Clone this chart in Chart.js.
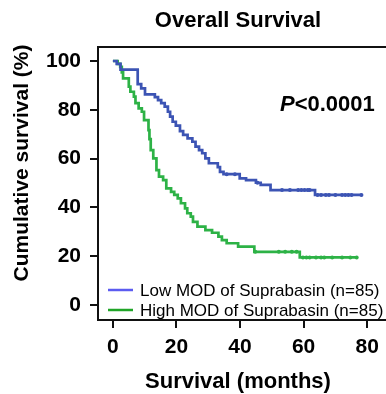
<!DOCTYPE html>
<html>
<head>
<meta charset="utf-8">
<script src="https://cdn.jsdelivr.net/npm/chart.js@4/dist/chart.umd.min.js"></script>
<style>
html,body{margin:0;padding:0;background:#fff;}
#wrap{width:386px;height:394px;position:relative;}
</style>
</head>
<body>
<div id="wrap"><canvas id="c" width="386" height="394"></canvas></div>
<script>
// ---- data ----
const chartTitle = 'Overall Survival';
const xAxisTitle = 'Survival (months)';
const yAxisTitle = 'Cumulative survival (%)';
const pValueText = '<0.0001';
const seriesLabels = ['Low MOD of Suprabasin (n=85)', 'High MOD of Suprabasin (n=85)'];
const xTicks = [0, 20, 40, 60, 80];
const yTicks = [0, 20, 40, 60, 80, 100];

// Low MOD (blue) step curve: event times (months) and survival (%)
const lowTimes = [0, 1.2, 2.4, 7.8, 8.9, 10.1, 13.2, 14.2, 15.2, 16.3, 17.3, 18.0, 18.8, 19.8, 21.1, 22.1, 23.5, 25.0, 26.0, 27.1, 28.1, 29.1, 30.2, 33.0, 33.7, 34.8, 39.9, 41.9, 45.0, 46.5, 49.6, 63.6, 78.2];
const lowSurv  = [100, 98.8, 96.5, 90.5, 88.8, 86.3, 85.2, 84.0, 82.7, 81.3, 79.2, 77.2, 75.1, 73.5, 71.3, 69.7, 68.3, 66.9, 64.9, 63.5, 62.2, 60.1, 58.1, 56.5, 54.6, 53.6, 51.9, 51.2, 50.1, 49.2, 47.1, 45.1, 45.1];
// Low MOD censored marks
const lowCensorTimes = [35.8, 38.4, 45.5, 53.2, 55.7, 58.3, 59.3, 60.3, 61.3, 61.9, 64.4, 65.5, 67.0, 68.0, 70.0, 72.1, 73.1, 74.1, 75.1, 78.2];
const lowCensorSurv  = [53.6, 53.6, 50.1, 47.1, 47.1, 47.1, 47.1, 47.1, 47.1, 47.1, 45.1, 45.1, 45.1, 45.1, 45.1, 45.1, 45.1, 45.1, 45.1, 45.1];

// High MOD (green) step curve
const highTimes = [0, 1.5, 2.3, 2.8, 3.2, 5.0, 5.5, 6.6, 7.1, 8.1, 9.1, 9.8, 11.2, 11.5, 11.9, 12.7, 13.7, 14.5, 15.8, 16.8, 18.3, 19.3, 20.4, 21.4, 22.7, 23.4, 24.5, 25.2, 26.6, 29.1, 31.2, 33.2, 34.3, 35.8, 39.4, 44.5, 58.8, 76.7];
const highSurv  = [100, 98.8, 97.6, 95.3, 92.9, 89.5, 87.4, 85.4, 82.7, 80.6, 79.2, 75.8, 71.7, 68.0, 63.5, 60.1, 55.3, 52.6, 51.2, 47.8, 46.4, 45.1, 43.7, 41.7, 39.6, 37.6, 36.2, 34.1, 32.1, 30.7, 29.6, 28.0, 26.6, 25.3, 23.9, 21.8, 19.5, 19.5];
// High MOD censored marks
const highCensorTimes = [44.8, 52.2, 54.2, 56.3, 57.8, 59.8, 60.9, 61.9, 63.9, 65.5, 66.5, 69.0, 72.1, 74.7, 76.7];
const highCensorSurv  = [21.8, 21.8, 21.8, 21.8, 21.8, 19.5, 19.5, 19.5, 19.5, 19.5, 19.5, 19.5, 19.5, 19.5, 19.5];

// ---- styling ----
const FONT = '"Liberation Sans", Arial, Helvetica, sans-serif';
const blue = 'rgb(60,84,180)';
const green = 'rgb(45,178,70)';
const legendBlue = 'rgb(92,92,240)';
const legendGreen = 'rgb(32,165,40)';

const toPts = (xs, ys) => xs.map((x, i) => ({x: x, y: ys[i]}));

const decor = {
  id: 'decor',
  beforeDatasetsDraw(chart) {
    const {ctx, chartArea: a} = chart;
    ctx.save();
    ctx.strokeStyle = '#111';
    ctx.lineWidth = 2;
    ctx.beginPath();
    ctx.moveTo(chart.width + 2, a.top);
    ctx.lineTo(a.left, a.top);
    ctx.lineTo(a.left, a.bottom);
    ctx.lineTo(chart.width + 2, a.bottom);
    ctx.stroke();
    ctx.restore();
  },
  afterDraw(chart) {
    const {ctx} = chart;
    ctx.save();
    ctx.fillStyle = '#000';
    // title
    ctx.font = 'bold 22px ' + FONT;
    ctx.textAlign = 'center';
    ctx.textBaseline = 'alphabetic';
    ctx.fillText(chartTitle, 238, 27);
    // x axis title
    ctx.fillText(xAxisTitle, 238, 388);
    // y axis title
    ctx.save();
    ctx.translate(28, 163);
    ctx.rotate(-Math.PI / 2);
    ctx.font = 'bold 21px ' + FONT;
    ctx.fillText(yAxisTitle, 0, 0);
    ctx.restore();
    // p value
    ctx.textAlign = 'left';
    ctx.font = 'italic bold 22px ' + FONT;
    ctx.fillText('P', 280, 111);
    const pw = ctx.measureText('P').width;
    ctx.font = 'bold 22px ' + FONT;
    ctx.fillText(pValueText, 280 + pw, 111);
    // legend
    const rows = [[legendBlue, seriesLabels[0], 290], [legendGreen, seriesLabels[1], 310]];
    ctx.font = '17px ' + FONT;
    ctx.textBaseline = 'middle';
    rows.forEach(([col, txt, y]) => {
      ctx.strokeStyle = col;
      ctx.lineWidth = 2.5;
      ctx.beginPath();
      ctx.moveTo(108, y);
      ctx.lineTo(133, y);
      ctx.stroke();
      ctx.fillStyle = '#000';
      ctx.fillText(txt, 140, y + 1);
    });
    ctx.restore();
  }
};

new Chart(document.getElementById('c'), {
  type: 'line',
  data: {
    datasets: [
      {label: seriesLabels[0], data: toPts(lowTimes, lowSurv), borderColor: blue, borderWidth: 2.7, stepped: true, pointRadius: 0, fill: false},
      {label: seriesLabels[1], data: toPts(highTimes, highSurv), borderColor: green, borderWidth: 2.7, stepped: true, pointRadius: 0, fill: false},
      {label: 'low censored', data: toPts(lowCensorTimes, lowCensorSurv), showLine: false, pointRadius: 2, pointStyle: 'circle', backgroundColor: blue, borderColor: blue, borderWidth: 0},
      {label: 'high censored', data: toPts(highCensorTimes, highCensorSurv), showLine: false, pointRadius: 2, pointStyle: 'circle', backgroundColor: green, borderColor: green, borderWidth: 0}
    ]
  },
  options: {
    responsive: false,
    animation: false,
    events: [],
    layout: {padding: {top: 47, left: 0, right: 0, bottom: 0}},
    plugins: {legend: {display: false}, title: {display: false}, tooltip: {enabled: false}},
    scales: {
      x: {
        type: 'linear', min: -4.69, max: 83.7,
        afterBuildTicks: s => { s.ticks = xTicks.map(v => ({value: v})); },
        afterFit: s => { s.height = 74; },
        grid: {display: true, drawOnChartArea: false, drawTicks: true, tickLength: 8, color: '#111', lineWidth: 2},
        border: {display: false},
        ticks: {color: '#000', font: {family: FONT, size: 21, weight: 'bold'}, padding: 7, maxRotation: 0, autoSkip: false}
      },
      y: {
        type: 'linear', min: -6.15, max: 105.74,
        afterBuildTicks: s => { s.ticks = yTicks.map(v => ({value: v})); },
        afterFit: s => { s.width = 98; },
        grid: {display: true, drawOnChartArea: false, drawTicks: true, tickLength: 8, color: '#111', lineWidth: 2},
        border: {display: false},
        ticks: {color: '#000', font: {family: FONT, size: 21, weight: 'bold'}, padding: 9, autoSkip: false}
      }
    }
  },
  plugins: [decor]
});
</script>
</body>
</html>
